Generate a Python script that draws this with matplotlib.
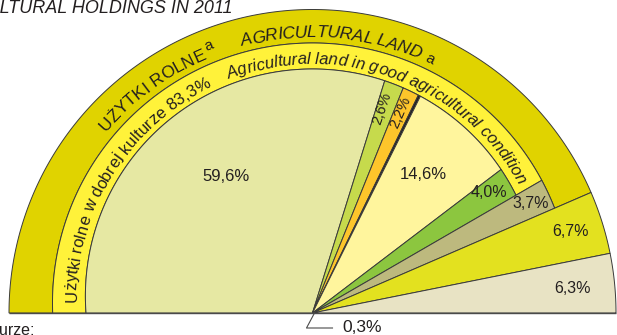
import numpy as np
import matplotlib
matplotlib.use("Agg")
import matplotlib.pyplot as plt
from matplotlib.patches import Polygon
from matplotlib.font_manager import FontProperties, findfont
from matplotlib.ft2font import FT2Font

# ---- data ----------------------------------------------------------------
shares = [59.6, 2.6, 2.2, 0.3, 14.6, 4.0, 3.7, 6.7, 6.3]
slice_colors = ["#e6e8a3", "#c6da4c", "#fdc52b", "#231f20", "#fff59d",
                "#8cc63f", "#bdb97e", "#e3e11f", "#e8e3c4"]
# how far each slice reaches: 0 = inside both rings, 1 = inside outer ring, 2 = full radius
slice_level = [0, 0, 0, 0, 0, 0, 1, 2, 2]
good_condition_share = 83.3
agricultural_land_share = 87.0
ring_colors = ["#fff23a", "#e0d300"]

title_text = "AGRICULTURAL LAND IN AGRICULTURAL HOLDINGS IN 2011"
footer_text = "w tym użytki rolne w dobrej kulturze:"
outer_ring_pl = "UŻYTKI ROLNE"
outer_ring_en = "AGRICULTURAL LAND"
inner_ring_pl = "Użytki rolne w dobrej kulturze {}%"
inner_ring_en = "Agricultural land in good agricultural condition"

# ---- layout (pixel units, y pointing up) ---------------------------------
W, H = 617, 335
CX, CY = 312.5, 22.0
TEXT = "#231f20"
EDGE = "#3a3a3a"
# (raise of circle centre above pie centre, circle radius) for each boundary
boundaries = [(16.9, 227.1), (10.0, 260.0), (0.0, 303.5)]


def fmt(v):
    return f"{v:.1f}".replace(".", ",")


def reach(theta, rise, radius):
    s = np.sin(theta)
    return rise * s + np.sqrt((rise * s) ** 2 + radius ** 2 - rise ** 2)


def to_deg(cum):
    return 180.0 - 1.8 * cum


def band(a0, a1, outer, inner=None, n=240):
    th = np.radians(np.linspace(a0, a1, n))
    ro = reach(th, *boundaries[outer])
    xo, yo = CX + ro * np.cos(th), CY + ro * np.sin(th)
    if inner is None:
        xs = np.concatenate([[CX], xo])
        ys = np.concatenate([[CY], yo])
    else:
        ri = reach(th, *boundaries[inner])
        xs = np.concatenate([xo, (CX + ri * np.cos(th))[::-1]])
        ys = np.concatenate([yo, (CY + ri * np.sin(th))[::-1]])
    return np.column_stack([xs, ys])


def arc_text(ax, text, prop, start_deg, centre, radius, rise=0.0, track=0.0):
    font = FT2Font(findfont(prop))
    font.set_size(prop.get_size_in_points(), 100)
    pos = 0.0
    for ch in text:
        adv = font.load_char(ord(ch)).linearHoriAdvance / 65536 + track
        th = start_deg - np.degrees((pos + adv / 2) / radius)
        r = radius + rise
        t = np.radians(th)
        if ch != " ":
            ax.text(centre[0] + r * np.cos(t), centre[1] + r * np.sin(t), ch,
                    fontproperties=prop, rotation=th - 90, rotation_mode="anchor",
                    ha="center", va="baseline", color=TEXT, zorder=5)
        pos += adv
    return start_deg - np.degrees(pos / radius)


fig = plt.figure(figsize=(W / 100, H / 100), dpi=100)
ax = fig.add_axes([0, 0, 1, 1])
ax.set_xlim(0, W)
ax.set_ylim(0, H)
ax.axis("off")

# rings
ax.add_patch(Polygon(band(180, to_deg(agricultural_land_share), 2, 1),
                     closed=True, fc=ring_colors[1], ec=EDGE, lw=0.7, zorder=2))
ax.add_patch(Polygon(band(180, to_deg(good_condition_share), 1, 0),
                     closed=True, fc=ring_colors[0], ec=EDGE, lw=0.7, zorder=2))

# slices
cum = 0.0
mids = []
for v, c, lev in zip(shares, slice_colors, slice_level):
    a0, a1 = to_deg(cum), to_deg(cum + v)
    ax.add_patch(Polygon(band(a0, a1, lev), closed=True, fc=c, ec=EDGE,
                         lw=0.7, zorder=3))
    mids.append((a0 + a1) / 2)
    cum += v

# baseline
ax.plot([CX - 303.5, CX + 303.5], [CY, CY], color="#4a4a4a", lw=1.0,
        zorder=4, solid_capstyle="butt")

# slice labels: (angle nudge, radius, size, radial text)
label_layout = [(-4.0, 162, 12, False), (0.8, 216, 10.5, True),
                (0.4, 219, 10.5, True), None, (0.9, 178, 12, False),
                (0.7, 214, 11.5, False), (0.0, 244, 11.5, False),
                (0.1, 270, 11.5, False), (-0.2, 261, 11.5, False)]
for v, mid, lay in zip(shares, mids, label_layout):
    if lay is None:
        continue
    dang, r, size, radial = lay
    t = np.radians(mid + dang)
    x, y = CX + r * np.cos(t), CY + r * np.sin(t)
    ax.text(x, y, fmt(v) + "%", fontsize=size, family="Liberation Sans",
            color=TEXT, ha="center", va="center", zorder=6,
            rotation=(mid + dang) if radial else 0, rotation_mode="anchor")

# tiny slice called out below the centre
small = shares[3]
ax.plot([CX + 2, CX - 6, CX + 20], [CY, 7, 7], color="#4a4a4a", lw=0.8,
        zorder=6)
ax.text(342, 7, fmt(small) + "%", fontsize=12.5, family="Liberation Sans",
        color=TEXT, ha="left", va="center")

# ring captions
reg = FontProperties(family="Liberation Sans", size=12.5)
ita = FontProperties(family="Liberation Sans", style="italic", size=12.5)
sup = FontProperties(family="Liberation Sans", size=11)
oc = (CX, CY + 4)
end = arc_text(ax, outer_ring_pl, reg, 139.5, oc, 272)
arc_text(ax, "a", sup, end - 0.5, oc, 272, rise=7)
end = arc_text(ax, outer_ring_en, ita, 105.0, oc, 272, track=-0.3)
arc_text(ax, "a", sup, end - 1.3, oc, 272, rise=0.5)

reg2 = FontProperties(family="Liberation Sans", size=12)
ita2 = FontProperties(family="Liberation Sans", style="italic", size=12)
ic = (CX, CY + 13)
arc_text(ax, inner_ring_pl.format(fmt(good_condition_share)), reg2, 180.6, ic, 236)
arc_text(ax, inner_ring_en, ita2, 110.7, ic, 236)

# page title and footnote heading (partly outside the frame)
ax.text(233, H - 12.7, title_text, fontsize=13, family="Liberation Sans",
        style="italic", color=TEXT, ha="right", va="baseline")
ax.text(35, -0.5, footer_text, fontsize=11.5, family="Liberation Sans",
        color=TEXT, ha="right", va="baseline")

fig.savefig("out.png", dpi=100)
